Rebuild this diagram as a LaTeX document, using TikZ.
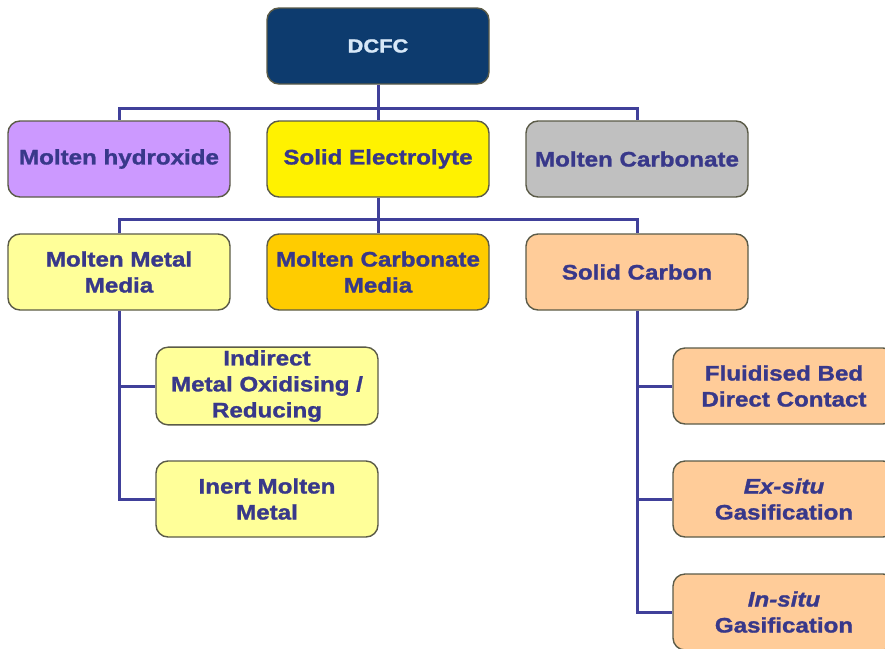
\documentclass[tikz,border=0pt]{standalone}
\usepackage{fontspec}
\setmainfont{Liberation Sans}[FakeStretch=1.15, BoldFeatures={FakeBold=1.3}, BoldItalicFeatures={FakeBold=1.3}]
\usepackage{tikz}
\usetikzlibrary{positioning}

\definecolor{navy}{HTML}{0D3B6E}
\definecolor{linkblue}{HTML}{40409A}
\definecolor{txtblue}{HTML}{38388A}
\definecolor{rim}{HTML}{5B5B48}
\definecolor{lilac}{HTML}{CC99FF}
\definecolor{paleyel}{HTML}{FFFF99}
\definecolor{gold}{HTML}{FFCC00}
\definecolor{peach}{HTML}{FFCC99}
\definecolor{silver}{HTML}{C0C0C0}

\begin{document}
\begin{tikzpicture}[x=1pt, y=-1pt, node distance=113pt and 259pt, on grid]
        \tikzset{box/.style={draw=rim, line width=1.4pt, rounded corners=12pt,
                minimum width=222pt, minimum height=76pt, inner sep=3pt, align=center,
                text=txtblue, font=\bfseries\fontsize{21}{26}\selectfont}}
        \tikzset{link/.style={draw=linkblue, line width=3pt}}
        \useasboundingbox (0,0) rectangle (885,648);

        \node[box, fill=navy, text={rgb,255:red,215;green,232;blue,248}, font=\bfseries\fontsize{19}{23}\selectfont] (dcfc) at (378,46) {DCFC};
        \node[box, fill=yellow] (se) [below=of dcfc] {Solid Electrolyte};
        \node[box, fill=lilac] (hyd) [left=of se] {Molten hydroxide};
        \node[box, fill=silver] (mc) [right=of se] {Molten Carbonate};
        \node[box, fill=gold] (cm) [below=of se] {Molten Carbonate\\Media};
        \node[box, fill=paleyel] (mm) [left=of cm] {Molten Metal\\Media};
        \node[box, fill=peach] (sc) [right=of cm] {Solid Carbon};
        \node[box, fill=paleyel] (ind) [below right=114pt and 148pt of mm] {Indirect\\Metal Oxidising /\\Reducing};
        \node[box, fill=paleyel] (inert) [below=of ind] {Inert Molten\\Metal};
        \node[box, fill=peach] (fb) [below right=114pt and 147pt of sc] {Fluidised Bed\\Direct Contact};
        \node[box, fill=peach] (ex) [below=of fb] {\textit{Ex-situ}\\Gasification};
        \node[box, fill=peach] (ins) [below=of ex] {\textit{In-situ}\\Gasification};

        \path[link]
        (dcfc.south) -- ++(0,24) coordinate (bar1)
        (hyd.north) |- (bar1) -| (mc.north)
        (bar1) -- (se.north)
        (se.south) -- ++(0,22) coordinate (bar2)
        (mm.north) |- (bar2) -| (sc.north)
        (bar2) -- (cm.north)
        (mm.south) |- (inert.west)
        (mm.south |- ind.west) -- (ind.west)
        (sc.south) |- (ins.west)
        (sc.south |- fb.west) -- (fb.west)
        (sc.south |- ex.west) -- (ex.west);
    \end{tikzpicture}
\end{document}
